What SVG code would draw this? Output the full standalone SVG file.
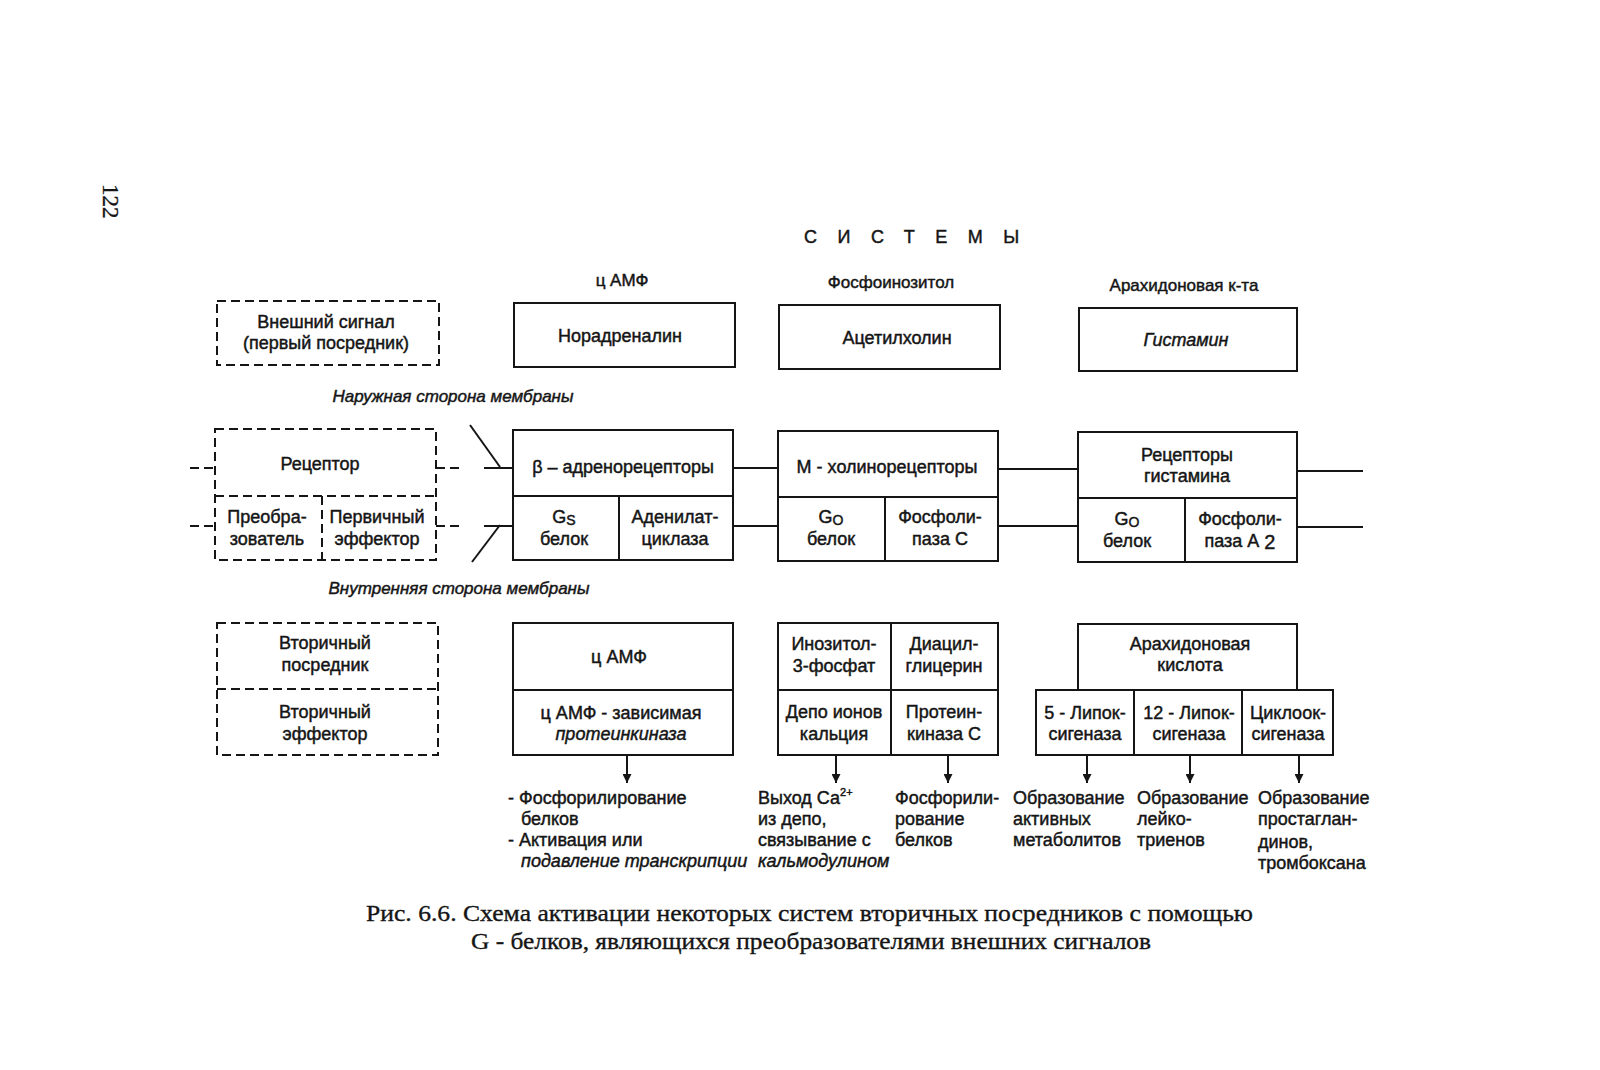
<svg xmlns="http://www.w3.org/2000/svg" width="1600" height="1070" viewBox="0 0 1600 1070">
<style>
.bx{fill:none;stroke:#151515;stroke-width:2}
.ds{fill:none;stroke:#151515;stroke-width:2;stroke-dasharray:9 5}
.ln{fill:none;stroke:#151515;stroke-width:2}
.t{font-family:"Liberation Sans",Arial,sans-serif;font-size:18px;fill:#151515;stroke:#151515;stroke-width:0.45;text-anchor:middle}
.l{font-family:"Liberation Sans",Arial,sans-serif;font-size:18px;fill:#151515;stroke:#151515;stroke-width:0.45}
.h{font-family:"Liberation Sans",Arial,sans-serif;font-size:17px;fill:#151515;stroke:#151515;stroke-width:0.45;text-anchor:middle}
.it{font-style:italic}
.cap{font-family:"Liberation Serif","Times New Roman",serif;font-size:23px;fill:#151515;stroke:#151515;stroke-width:0.35}
</style>
<defs>
<marker id="ah" viewBox="0 0 10 10" refX="10" refY="5" markerWidth="9" markerHeight="9" markerUnits="userSpaceOnUse" orient="auto">
<path d="M0,0 L10,5 L0,10 z" fill="#151515"/>
</marker>
</defs>
<rect width="1600" height="1070" fill="#fff"/>

<text class="cap" transform="translate(103,184) rotate(90)" font-size="21">122</text>

<text class="l" x="804" y="243" font-size="21" letter-spacing="20.5" stroke-width="0.8">СИСТЕМЫ</text>
<text class="h" x="622" y="286">ц АМФ</text>
<text class="h" x="891" y="288">Фосфоинозитол</text>
<text class="h" x="1184" y="291">Арахидоновая к-та</text>

<text class="h it" x="453" y="402" font-size="16">Наружная сторона мембраны</text>
<text class="h it" x="459" y="594" font-size="16">Внутренняя сторона мембраны</text>

<g id="connectors">
<line class="ds" x1="190" y1="468" x2="215" y2="468"/>
<line class="ds" x1="190" y1="526" x2="215" y2="526"/>
<line class="ds" x1="436" y1="468" x2="463" y2="468"/>
<line class="ds" x1="436" y1="526" x2="463" y2="526"/>
<polyline class="ln" points="470,425 500,467"/>
<line class="ln" x1="484" y1="468" x2="513" y2="468"/>
<polyline class="ln" points="472,562 500,525"/>
<line class="ln" x1="484" y1="526" x2="513" y2="526"/>
<line class="ln" x1="733" y1="468" x2="778" y2="468"/>
<line class="ln" x1="733" y1="526" x2="778" y2="526"/>
<line class="ln" x1="998" y1="469" x2="1078" y2="469"/>
<line class="ln" x1="998" y1="526" x2="1078" y2="526"/>
<line class="ln" x1="1297" y1="471" x2="1363" y2="471"/>
<line class="ln" x1="1297" y1="527" x2="1363" y2="527"/>
<line class="ln" x1="627" y1="755" x2="627" y2="783" marker-end="url(#ah)"/>
<line class="ln" x1="836" y1="755" x2="836" y2="783" marker-end="url(#ah)"/>
<line class="ln" x1="948" y1="755" x2="948" y2="783" marker-end="url(#ah)"/>
<line class="ln" x1="1087" y1="755" x2="1087" y2="783" marker-end="url(#ah)"/>
<line class="ln" x1="1190" y1="755" x2="1190" y2="783" marker-end="url(#ah)"/>
<line class="ln" x1="1299" y1="755" x2="1299" y2="783" marker-end="url(#ah)"/>
</g>

<g id="external-signal">
<rect class="ds" x="217" y="301" width="222" height="64"/>
<text class="t" x="326" y="328" font-size="17">Внешний сигнал</text>
<text class="t" x="326" y="349" font-size="17">(первый посредник)</text>
</g>
<g id="noradrenalin">
<rect class="bx" x="514" y="303" width="221" height="64"/>
<text class="t" x="620" y="342">Норадреналин</text>
</g>
<g id="acetylcholine">
<rect class="bx" x="779" y="305" width="221" height="64"/>
<text class="t" x="897" y="344">Ацетилхолин</text>
</g>
<g id="histamine">
<rect class="bx" x="1079" y="308" width="218" height="63"/>
<text class="t it" x="1186" y="346">Гистамин</text>
</g>

<g id="receptor-generic">
<rect class="ds" x="215" y="429" width="221" height="131"/>
<line class="ds" x1="215" y1="496" x2="436" y2="496"/>
<line class="ds" x1="322" y1="496" x2="322" y2="560"/>
<text class="t" x="320" y="470">Рецептор</text>
<text class="t" x="267" y="523">Преобра-</text>
<text class="t" x="267" y="545">зователь</text>
<text class="t" x="377" y="523">Первичный</text>
<text class="t" x="377" y="545">эффектор</text>
</g>
<g id="beta-receptors">
<rect class="bx" x="513" y="430" width="220" height="130"/>
<line class="bx" x1="513" y1="496" x2="733" y2="496"/>
<line class="bx" x1="619" y1="496" x2="619" y2="560"/>
<text class="t" x="623" y="473">β – адренорецепторы</text>
<text class="t" x="564" y="523">G<tspan font-size="14" dy="2">S</tspan></text>
<text class="t" x="564" y="545">белок</text>
<text class="t" x="675" y="523">Аденилат-</text>
<text class="t" x="675" y="545">циклаза</text>
</g>
<g id="m-receptors">
<rect class="bx" x="778" y="431" width="220" height="130"/>
<line class="bx" x1="778" y1="497" x2="998" y2="497"/>
<line class="bx" x1="885" y1="497" x2="885" y2="561"/>
<text class="t" x="887" y="473">M - холинорецепторы</text>
<text class="t" x="831" y="523">G<tspan font-size="14" dy="2">O</tspan></text>
<text class="t" x="831" y="545">белок</text>
<text class="t" x="940" y="523">Фосфоли-</text>
<text class="t" x="940" y="545">паза С</text>
</g>
<g id="histamine-receptors">
<rect class="bx" x="1078" y="432" width="219" height="130"/>
<line class="bx" x1="1078" y1="498" x2="1297" y2="498"/>
<line class="bx" x1="1185" y1="498" x2="1185" y2="562"/>
<text class="t" x="1187" y="461">Рецепторы</text>
<text class="t" x="1187" y="482">гистамина</text>
<text class="t" x="1127" y="525">G<tspan font-size="14" dy="2">O</tspan></text>
<text class="t" x="1127" y="547">белок</text>
<text class="t" x="1240" y="525">Фосфоли-</text>
<text class="t" x="1240" y="547">паза А <tspan font-size="20" dy="2">2</tspan></text>
</g>

<g id="second-messenger-generic">
<rect class="ds" x="217" y="623" width="221" height="132"/>
<line class="ds" x1="217" y1="689" x2="438" y2="689"/>
<text class="t" x="325" y="649">Вторичный</text>
<text class="t" x="325" y="671">посредник</text>
<text class="t" x="325" y="718">Вторичный</text>
<text class="t" x="325" y="740">эффектор</text>
</g>
<g id="camp">
<rect class="bx" x="513" y="623" width="220" height="132"/>
<line class="bx" x1="513" y1="690" x2="733" y2="690"/>
<text class="t" x="619" y="663">ц АМФ</text>
<text class="t" x="621" y="719">ц АМФ - зависимая</text>
<text class="t it" x="621" y="740">протеинкиназа</text>
</g>
<g id="phosphoinositol">
<rect class="bx" x="778" y="623" width="220" height="132"/>
<line class="bx" x1="778" y1="690" x2="998" y2="690"/>
<line class="bx" x1="891" y1="623" x2="891" y2="755"/>
<text class="t" x="834" y="650">Инозитол-</text>
<text class="t" x="834" y="672">3-фосфат</text>
<text class="t" x="944" y="650">Диацил-</text>
<text class="t" x="944" y="672">глицерин</text>
<text class="t" x="834" y="718">Депо ионов</text>
<text class="t" x="834" y="740">кальция</text>
<text class="t" x="944" y="718">Протеин-</text>
<text class="t" x="944" y="740">киназа С</text>
</g>
<g id="arachidonic">
<rect class="bx" x="1078" y="624" width="219" height="66"/>
<text class="t" x="1190" y="650">Арахидоновая</text>
<text class="t" x="1190" y="671">кислота</text>
</g>
<g id="enzymes">
<rect class="bx" x="1036" y="690" width="297" height="65"/>
<line class="bx" x1="1134" y1="690" x2="1134" y2="755"/>
<line class="bx" x1="1242" y1="690" x2="1242" y2="755"/>
<text class="t" x="1085" y="719">5 - Липок-</text>
<text class="t" x="1085" y="740">сигеназа</text>
<text class="t" x="1189" y="719">12 - Липок-</text>
<text class="t" x="1189" y="740">сигеназа</text>
<text class="t" x="1288" y="719">Циклоок-</text>
<text class="t" x="1288" y="740">сигеназа</text>
</g>

<g id="effects-camp">
<text class="l" x="508" y="804">- Фосфорилирование</text>
<text class="l" x="521" y="825">белков</text>
<text class="l" x="508" y="846">- Активация или</text>
<text class="l it" x="521" y="867">подавление транскрипции</text>
</g>
<g id="effects-ca">
<text class="l" x="758" y="804">Выход Са<tspan font-size="11" dy="-8">2+</tspan></text>
<text class="l" x="758" y="825">из депо,</text>
<text class="l" x="758" y="846">связывание с</text>
<text class="l it" x="758" y="867">кальмодулином</text>
</g>
<g id="effects-pkc">
<text class="l" x="895" y="804">Фосфорили-</text>
<text class="l" x="895" y="825">рование</text>
<text class="l" x="895" y="846">белков</text>
</g>
<g id="effects-5lox">
<text class="l" x="1013" y="804">Образование</text>
<text class="l" x="1013" y="825">активных</text>
<text class="l" x="1013" y="846">метаболитов</text>
</g>
<g id="effects-12lox">
<text class="l" x="1137" y="804">Образование</text>
<text class="l" x="1137" y="825">лейко-</text>
<text class="l" x="1137" y="846">триенов</text>
</g>
<g id="effects-cox">
<text class="l" x="1258" y="804">Образование</text>
<text class="l" x="1258" y="825">простаглан-</text>
<text class="l" x="1258" y="848">динов,</text>
<text class="l" x="1258" y="869">тромбоксана</text>
</g>

<text class="cap" x="366" y="921" textLength="887" lengthAdjust="spacingAndGlyphs">Рис. 6.6.  Схема активации некоторых систем вторичных посредников с помощью</text>
<text class="cap" x="471" y="949" textLength="680" lengthAdjust="spacingAndGlyphs">G - белков, являющихся преобразователями внешних сигналов</text>
</svg>
